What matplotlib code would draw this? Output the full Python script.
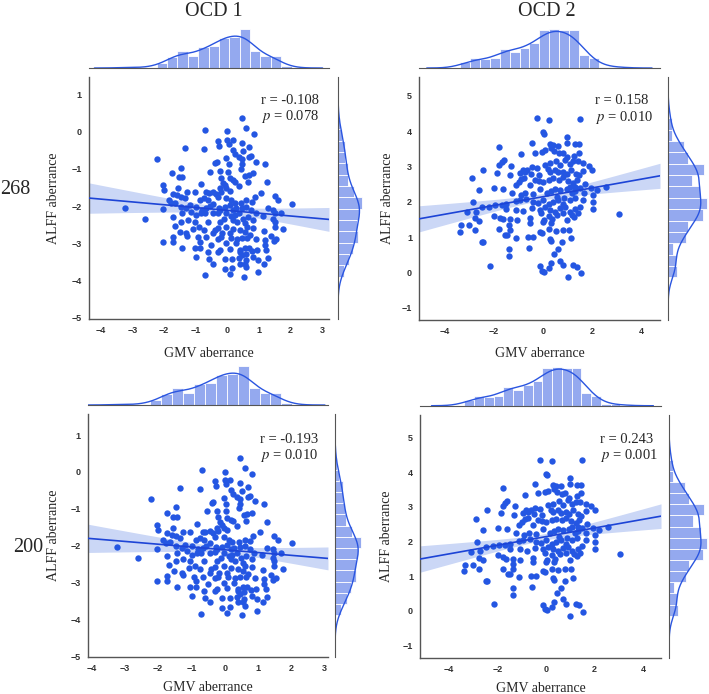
import numpy as np
import matplotlib
matplotlib.use('Agg')
import matplotlib.pyplot as plt
import seaborn as sns

sns.set_style('white')
plt.rcParams['font.family'] = ['Liberation Serif', 'DejaVu Serif']
plt.rcParams['mathtext.fontset'] = 'stix'

# OCD 1 (the 200 panel is drawn from the same cloud)
gmv_ocd1 = [0.47, -0.69, 0.00, 0.60, 0.83, -0.28, 0.00, 0.17, 0.05, 0.46, -0.26, -1.33, -0.73, 0.69, 0.18,
            0.24, 0.51, 0.47, 0.76, 0.69, -2.22, -0.03, 0.37, -0.34, -0.39, 0.04, 0.46, 0.92, 1.18, -1.45,
            -0.54, -0.24, 0.03, 0.43, -1.74, -1.54, -1.42, -0.19, 0.07, 0.18, 0.24, 0.81, 0.67, 0.57, 1.26,
            -0.14, -0.08, -0.82, -2.03, -2.01, -1.56, 0.65, -0.03, -0.24, 0.37, -0.45, -0.35, -0.20, 0.07, -0.66,
            -0.58, -1.03, -1.26, -1.72, 1.07, 0.86, 1.49, -1.84, -1.59, -1.47, -1.35, -0.87, -0.75, -0.62, -0.29,
            -0.03, 0.13, 0.23, 0.42, 0.60, 0.77, 1.60, 2.03, -3.22, -2.04, -1.77, -1.64, -1.45, -1.29, -1.19,
            -0.98, -0.79, -0.66, -0.56, -0.45, -0.26, -0.22, -0.08, 0.07, 0.18, 0.28, 0.47, 0.60, 0.76, 0.89,
            1.28, 1.44, 1.49, 1.68, -2.59, -1.72, -1.42, -1.14, -0.98, -0.82, -0.72, -0.45, -0.29, -0.03, 0.13,
            0.23, 0.37, 0.49, 0.65, 0.81, 1.13, 1.44, 1.49, -1.24, -1.03, -0.61, -0.24, -0.12, 0.18, 0.31,
            0.55, 0.62, 1.49, 1.76, -1.66, -1.45, -0.89, -1.08, -0.75, -0.40, -0.29, -0.03, 0.18, 0.39, 0.81,
            1.15, -1.51, -1.29, -0.45, -0.16, 0.07, 0.55, 0.71, 1.39, 1.53, -2.03, -1.72, -1.26, -0.93, -0.66,
            -0.29, -0.19, 0.11, 0.31, 0.46, 0.63, 0.92, 1.18, -1.72, -0.87, -0.51, -0.03, 0.28, 0.55, 0.67,
            1.18, 1.46, -1.42, -1.03, -0.87, -0.24, 0.07, 0.39, 0.78, 0.94, 1.23, -0.61, -0.29, 0.39, 0.46,
            0.58, 0.81, 1.28, -0.98, -0.58, -0.08, 0.16, 0.36, 0.58, 0.97, -0.45, 0.39, 0.55, 1.16, -0.08,
            0.15, 0.60, 0.07, -0.71, 0.53, 0.97]
alff_ocd1 = [0.37, 0.04, 0.01, 0.11, -0.06, -0.24, -0.22, -0.21, -0.33, -0.30, -0.38, -0.43, -0.46, -0.40, -0.49,
             -0.60, -0.51, -0.74, -0.65, -0.69, -0.73, -0.70, -0.67, -0.82, -0.85, -0.87, -0.87, -0.80, -0.87, -0.96,
             -1.07, -1.05, -1.07, -0.99, -1.12, -1.21, -1.21, -1.23, -1.24, -1.30, -1.34, -1.12, -1.15, -1.18, -1.35,
             -1.37, -1.43, -1.41, -1.44, -1.57, -1.52, -1.34, -1.52, -1.52, -1.47, -1.61, -1.66, -1.61, -1.58, -1.62,
             -1.64, -1.63, -1.62, -1.66, -1.64, -1.75, -1.73, -1.84, -1.71, -1.75, -1.79, -1.84, -1.78, -1.84, -1.76,
             -1.77, -1.84, -1.90, -1.90, -1.84, -1.88, -1.84, -1.93, -2.04, -2.08, -1.92, -1.90, -2.01, -2.06, -1.97,
             -2.01, -2.10, -2.06, -2.00, -1.94, -2.04, -2.10, -2.03, -1.97, -2.09, -2.06, -2.04, -2.01, -2.10, -2.19,
             -2.06, -2.10, -2.19, -2.19, -2.33, -2.28, -2.19, -2.15, -2.24, -2.19, -2.19, -2.19, -2.18, -2.19, -2.27,
             -2.24, -2.19, -2.33, -2.28, -2.37, -2.26, -2.33, -2.42, -2.37, -2.42, -2.42, -2.42, -2.33, -2.37, -2.42,
             -2.46, -2.55, -2.55, -2.62, -2.52, -2.42, -2.55, -2.60, -2.64, -2.64, -2.58, -2.55, -2.60, -2.64, -2.58,
             -2.66, -2.69, -2.73, -2.73, -2.73, -2.73, -2.69, -2.78, -2.80, -2.89, -2.97, -2.82, -2.80, -2.84, -2.84,
             -2.88, -2.84, -2.85, -2.88, -2.85, -2.86, -2.88, -2.91, -2.96, -2.95, -3.04, -3.00, -3.00, -3.13, -3.11,
             -3.04, -2.93, -3.12, -3.13, -3.13, -3.18, -3.16, -3.18, -3.20, -3.18, -3.18, -3.22, -3.22, -3.24, -3.31,
             -3.27, -3.36, -3.38, -3.36, -3.43, -3.43, -3.43, -3.40, -3.45, -3.45, -3.54, -3.54, -3.54, -3.54, -3.68,
             -3.67, -3.63, -3.82, -3.84, -3.89, -3.76]

# OCD 2
gmv_ocd2 = [-0.24, 0.24, 1.49, 0.01, 0.04, 0.98, -0.47, 0.26, 0.41, 0.61, 0.96, 1.27, 1.45, -1.78, 0.08,
            -0.05, -0.33, 0.33, 0.43, 0.65, 0.79, 0.95, 1.25, 1.45, -0.89, -1.60, -1.69, -1.80, -1.30, -0.83,
            -0.64, -0.47, -0.27, 0.07, 0.27, 0.51, 0.68, 0.88, 1.08, 1.22, 1.41, 1.63, 1.86, 1.99, -2.45,
            -1.86, -1.34, -0.95, -0.89, -0.75, -0.51, -0.16, 0.18, 0.27, 0.47, 0.61, 0.81, 0.95, 1.11, 1.33,
            1.44, 1.63, -2.91, -2.62, -1.99, -1.63, -1.12, -0.98, -0.76, -0.54, -0.35, -0.19, 0.00, 0.23, 0.41,
            0.65, 0.81, 1.02, 1.22, 1.36, 1.68, 1.92, 2.17, 2.56, -1.25, -0.92, -0.72, -0.43, -0.14, 0.14,
            0.33, 0.49, 0.70, 0.95, 1.08, 1.30, 1.49, 1.65, 2.03, -2.85, -2.47, -2.20, -1.94, -1.68, -1.49,
            -1.11, -0.95, -0.68, -0.43, -0.20, 0.00, 0.22, 0.41, 0.62, 0.85, 1.08, 1.27, 1.63, 2.03, -3.09,
            -2.72, -1.99, -1.76, -1.49, -1.10, -0.81, -0.46, -0.14, 0.07, 0.27, 0.49, 0.68, 0.89, 1.08, 1.30,
            1.49, 2.01, 3.06, -2.76, -2.59, -1.64, -1.36, -1.08, -0.54, -0.07, 0.03, 0.23, 0.37, 0.57, 0.81,
            0.98, 1.25, 1.41, -3.35, -3.02, -0.53, 0.00, 0.33, -1.38, -1.79, -1.36, -2.76, -3.37, -1.57, -1.48,
            -1.11, -0.61, -0.42, -0.14, -0.04, 0.23, 0.50, 0.79, 1.03, 1.11, 0.28, 0.33, 0.76, -2.49, -2.43,
            -1.37, -1.38, -0.58, 0.61, 0.43, -0.14, -0.05, 0.03, 0.33, 0.22, 0.68, 0.81, 1.22, 1.36, 0.99,
            1.52, -2.17, 1.29, 1.18, 0.81, 0.54, 1.15]
alff_ocd2 = [4.36, 4.32, 4.34, 3.96, 3.92, 3.84, 3.66, 3.64, 3.60, 3.59, 3.65, 3.64, 3.64, 3.54, 3.47,
             3.42, 3.39, 3.52, 3.44, 3.37, 3.39, 3.26, 3.30, 3.39, 3.34, 3.17, 3.12, 3.03, 3.02, 2.90,
             2.90, 2.97, 2.95, 3.04, 3.09, 3.16, 3.05, 3.19, 3.07, 3.15, 3.14, 3.09, 3.02, 2.91, 2.90,
             2.81, 2.76, 2.81, 2.64, 2.84, 2.79, 2.76, 2.92, 2.85, 2.90, 2.83, 2.85, 2.78, 2.90, 2.79,
             2.75, 2.88, 2.66, 2.33, 2.38, 2.35, 2.48, 2.57, 2.67, 2.48, 2.62, 2.60, 2.57, 2.62, 2.66,
             2.62, 2.69, 2.59, 2.54, 2.62, 2.50, 2.40, 2.33, 2.41, 2.26, 2.19, 2.24, 2.22, 2.36, 2.26,
             2.29, 2.36, 2.33, 2.35, 2.43, 2.31, 2.38, 2.24, 2.19, 1.98, 1.84, 1.86, 1.91, 1.91, 1.94,
             2.02, 2.05, 2.07, 2.00, 1.96, 2.05, 1.94, 2.00, 2.05, 2.10, 2.05, 2.10, 2.05, 2.00, 1.71,
             1.72, 1.60, 1.54, 1.79, 1.77, 1.74, 1.81, 1.77, 1.84, 1.77, 1.72, 1.81, 1.84, 1.72, 1.79,
             1.86, 1.79, 1.65, 1.53, 1.46, 1.51, 1.50, 1.48, 1.53, 1.67, 1.48, 1.60, 1.50, 1.63, 1.67,
             1.48, 1.58, 1.67, 1.33, 1.33, 1.41, 1.42, 1.41, 1.35, 1.22, 1.20, 1.20, 1.14, 1.06, 1.06,
             0.97, 1.01, 1.01, 1.15, 1.12, 1.22, 1.18, 1.20, 1.20, 0.96, 0.94, 0.90, 0.85, 0.86, 0.86,
             0.65, 0.47, 0.68, 0.65, 0.52, 0.18, 0.04, 0.02, 0.26, 0.12, 0.33, 0.21, 0.21, 0.16, -0.14,
             -0.03, 0.19, 2.43, 2.24, 1.94, 2.12, 1.63]

col_titles = ['OCD 1', 'OCD 2']
row_labels = ['268', '200']
stats = [['r = -0.108', '0.078'], ['r = 0.158', '0.010'],
         ['r = -0.193', '0.010'], ['r = 0.243', '0.001']]

DOT = '#2456e2'
LINE = '#1d44d6'
BAND = '#cbd7f6'
HIST = '#2a55e0'
SPINE = '#555555'


def tick_style(ax):
    for lab in ax.get_xticklabels() + ax.get_yticklabels():
        lab.set_fontfamily('Liberation Sans')
        lab.set_fontweight('bold')
        lab.set_fontsize(6.5)
        lab.set_color('#333333')
    ax.tick_params(length=0, pad=5)


def joint(fig, main, top, right, x, y, xlim, ylim, xticks, yticks, st, txt_xy, xlab_y, ylab_x):
    x = np.asarray(x)
    y = np.asarray(y)
    ax = fig.add_axes(main)
    ax_t = fig.add_axes(top)
    ax_r = fig.add_axes(right)

    # regression line with confidence band
    b, a = np.polyfit(x, y, 1)
    xs = np.linspace(xlim[0], xlim[1], 100)
    n = len(x)
    resid = y - (a + b * x)
    s = np.sqrt(np.sum(resid ** 2) / (n - 2))
    se = s * np.sqrt(1.0 / n + (xs - x.mean()) ** 2 / np.sum((x - x.mean()) ** 2))
    yfit = a + b * xs
    ax.fill_between(xs, yfit - 1.4 * se, yfit + 1.4 * se, color=BAND, lw=0, zorder=1)
    ax.scatter(x, y, s=21, color=DOT, lw=0, zorder=2)
    ax.plot(xs, yfit, color=LINE, lw=1.2, zorder=3)

    ax.set_xlim(xlim)
    ax.set_ylim(ylim)
    ax.set_xticks(xticks)
    ax.set_yticks(yticks)
    ax.set_xticklabels([str(t).replace('-', '\u2212') for t in xticks])
    ax.set_yticklabels([str(t).replace('-', '\u2212') for t in yticks])
    tick_style(ax)
    for sp in ['top', 'right']:
        ax.spines[sp].set_visible(False)
    for sp in ['left', 'bottom']:
        ax.spines[sp].set_color(SPINE)
        ax.spines[sp].set_linewidth(1.0)

    ax.set_xlabel('GMV aberrance', fontsize=10)
    ax.set_ylabel('ALFF aberrance', fontsize=10)
    ax.xaxis.set_label_coords(0.5, xlab_y)
    ax.yaxis.set_label_coords(ylab_x, 0.5)

    ax.text(txt_xy[0], txt_xy[1], st[0], transform=ax.transAxes, fontsize=10.5, va='center')
    ax.text(txt_xy[0], txt_xy[2], r'$\mathit{p}$ = ' + st[1], transform=ax.transAxes,
            fontsize=10.5, va='center')

    # marginal distributions
    sns.histplot(x=x, ax=ax_t, kde=True, bins=16, color=HIST, alpha=0.5, edgecolor='white',
                 linewidth=0.6, kde_kws={'cut': 3}, line_kws={'lw': 1.0})
    ax_t.set_xlim(xlim)
    sns.histplot(y=y, ax=ax_r, kde=True, bins=14, color=HIST, alpha=0.5, edgecolor='white',
                 linewidth=0.6, kde_kws={'cut': 3}, line_kws={'lw': 1.0})
    ax_r.set_ylim(ylim)
    for m in (ax_t, ax_r):
        m.set_xticks([])
        m.set_yticks([])
        m.set_xlabel('')
        m.set_ylabel('')
        for sp in m.spines.values():
            sp.set_visible(False)
    ax_t.spines['bottom'].set_visible(True)
    ax_t.spines['bottom'].set_color(SPINE)
    ax_r.spines['left'].set_visible(True)
    ax_r.spines['left'].set_color(SPINE)
    ax_t.set_ylim(0, None)
    ax_r.set_xlim(0, None)
    return ax


fig = plt.figure(figsize=(7.09, 6.94), dpi=100)

joint(fig, [0.1255, 0.5403, 0.3385, 0.3487], [0.1255, 0.9020, 0.3385, 0.0591],
      [0.4767, 0.5403, 0.0353, 0.3487], gmv_ocd1, alff_ocd1, (-4.37, 3.21), (-5.03, 1.47),
      [-4, -3, -2, -1, 0, 1, 2, 3], [-5, -4, -3, -2, -1, 0, 1], stats[0], (0.715, 0.902, 0.835),
      -0.116, -0.121)
joint(fig, [0.5910, 0.5389, 0.3399, 0.3501], [0.5910, 0.9020, 0.3399, 0.0591],
      [0.9422, 0.5389, 0.0578, 0.3501], gmv_ocd2, alff_ocd2, (-5.04, 4.74), (-1.35, 5.53),
      [-4, -2, 0, 2, 4], [-1, 0, 1, 2, 3, 4, 5], stats[1], (0.73, 0.902, 0.835),
      -0.111, -0.104)
joint(fig, [0.1241, 0.0533, 0.3385, 0.3501], [0.1241, 0.4164, 0.3385, 0.0591],
      [0.4725, 0.0533, 0.0381, 0.3501], gmv_ocd1, alff_ocd1, (-4.10, 3.10), (-5.02, 1.57),
      [-4, -3, -2, -1, 0, 1, 2, 3], [-5, -4, -3, -2, -1, 0, 1], stats[2], (0.715, 0.897, 0.831),
      -0.099, -0.117)
joint(fig, [0.5924, 0.0519, 0.3399, 0.3501], [0.5924, 0.4154, 0.3399, 0.0591],
      [0.9436, 0.0519, 0.0564, 0.3501], gmv_ocd2, alff_ocd2, (-5.2, 4.73), (-1.36, 5.65),
      [-4, -2, 0, 2, 4], [-1, 0, 1, 2, 3, 4, 5], stats[3], (0.745, 0.901, 0.835),
      -0.098, -0.112)

fig.text(214 / 709, 1 - 12 / 694, col_titles[0], ha='center', va='center', fontsize=14.5)
fig.text(547 / 709, 1 - 12 / 694, col_titles[1], ha='center', va='center', fontsize=14.5)
fig.text(15 / 709, 1 - 190 / 694, row_labels[0], ha='center', va='center', fontsize=14.5)
fig.text(28 / 709, 1 - 547 / 694, row_labels[1], ha='center', va='center', fontsize=14.5)

fig.savefig('out.png', dpi=100)
